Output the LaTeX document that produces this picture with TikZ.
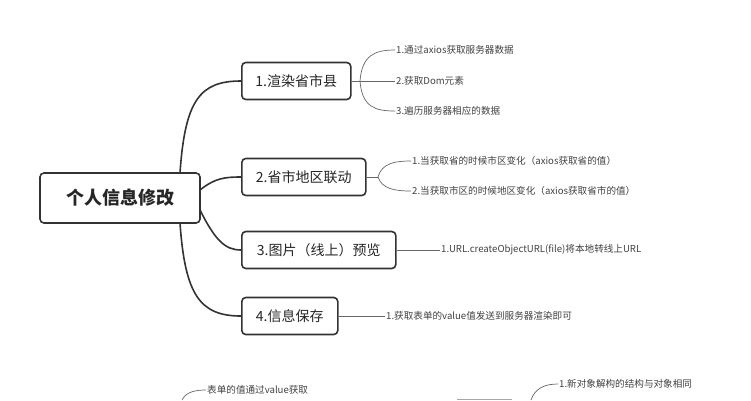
\documentclass[tikz,border=0pt]{standalone}
\usepackage{fontspec}
\setmainfont{Noto Sans CJK SC}
\begin{document}
\begin{tikzpicture}[x=1pt,y=-1pt,
  box/.style={draw=black!80,line width=1.6pt,rounded corners=4pt,fill=white,minimum height=37pt,inner xsep=8pt,font=\fontsize{14}{16}\selectfont,text=black!85},
  leaf/.style={anchor=west,inner sep=1pt,font=\fontsize{9.6}{11}\selectfont,text=black!75},
  main/.style={draw=black!80,line width=1.6pt},
  thin/.style={draw=black!60,line width=0.7pt}]
\useasboundingbox (0,0) rectangle (751,400);
\node[box,minimum width=160pt,minimum height=50pt,font=\fontsize{18}{20}\selectfont\bfseries] (root) at (120,198) {个人信息修改};
\node[box,anchor=west,minimum width=109pt] (b1) at (241,81) {1.渲染省市县};
\node[box,anchor=west,minimum width=124pt] (b2) at (241,177) {2.省市地区联动};
\node[box,anchor=west,minimum width=154pt] (b3) at (241,250) {3.图片（线上）预览};
\node[box,anchor=west,minimum width=96pt] (b4) at (241,316) {4.信息保存};
\coordinate (r1) at (180,173);
\coordinate (r4) at (180,223);
\draw[main] (r1) .. controls (185,100) and (200,81) .. (b1.west);
\draw[main] (200,190) .. controls (215,178) and (225,177) .. (b2.west);
\draw[main] (200,210) .. controls (215,240) and (225,250) .. (b3.west);
\draw[main] (r4) .. controls (185,295) and (200,316) .. (b4.west);
\node[leaf] (l11) at (395,50) {1.通过axios获取服务器数据};
\node[leaf] (l12) at (395,81) {2.获取Dom元素};
\node[leaf] (l13) at (395,111) {3.遍历服务器相应的数据};
\coordinate (f1) at (360,81);
\draw[thin] (b1.east) -- (f1);
\draw[thin] (f1) .. controls (362,55) and (375,50) .. (l11.west);
\draw[thin] (f1) -- (l12.west);
\draw[thin] (f1) .. controls (362,107) and (375,111) .. (l13.west);
\node[leaf] (l21) at (411,161) {1.当获取省的时候市区变化（axios获取省的值）};
\node[leaf] (l22) at (411,191) {2.当获取市区的时候地区变化（axios获取省市的值）};
\coordinate (f2) at (378,177);
\draw[thin] (b2.east) -- (f2);
\draw[thin] (f2) .. controls (382,163) and (395,161) .. (l21.west);
\draw[thin] (f2) .. controls (382,189) and (395,191) .. (l22.west);
\node[leaf] (l31) at (440,250) {1.URL.createObjectURL(file)将本地转线上URL};
\draw[thin] (b3.east) -- (l31.west);
\node[leaf] (l41) at (385,316) {1.获取表单的value值发送到服务器渲染即可};
\draw[thin] (b4.east) -- (l41.west);
\node[leaf] (l51) at (206,390) {表单的值通过value获取};
\coordinate (c5) at (182,400);
\draw[thin] (c5) .. controls (186,392) and (195,390) .. (l51.west);
\node[leaf] (l61) at (558,384) {1.新对象解构的结构与对象相同};
\coordinate (c6) at (531,400);
\draw[thin] (c6) .. controls (535,388) and (545,384) .. (l61.west);
\draw[red!50,line width=1pt] (457,399.5) -- (512,399.5);
\end{tikzpicture}
\end{document}
